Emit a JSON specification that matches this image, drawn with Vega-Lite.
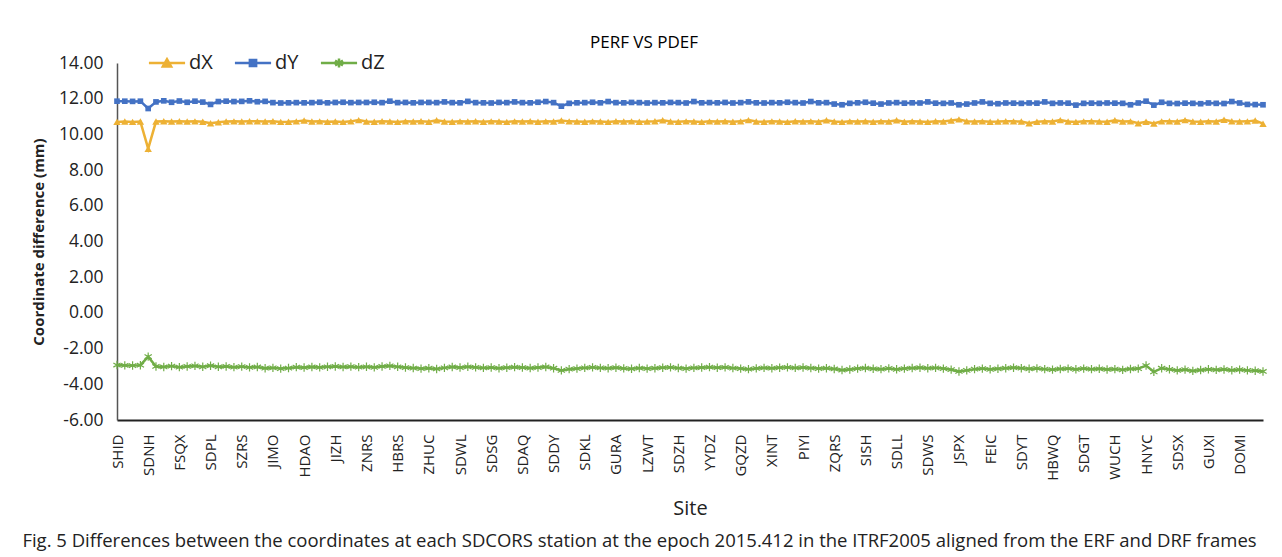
{
  "$schema": "https://vega.github.io/schema/vega-lite/v6.json",
  "background": "white",
  "padding": {"left": 22, "top": 34, "right": 0, "bottom": 0},
  "config": {
    "font": "Open Sans",
    "view": {"stroke": null},
    "concat": {"spacing": 0}
  },
  "title": {
    "text": "Fig. 5  Differences between the coordinates at each SDCORS station at the epoch 2015.412 in the ITRF2005 aligned from the ERF and DRF frames",
    "orient": "bottom",
    "anchor": "start",
    "font": "Open Sans",
    "fontSize": 18.5,
    "fontWeight": "normal",
    "color": "#222",
    "offset": 14,
    "dx": -9
  },
  "vconcat": [
    {
      "width": 1146,
      "height": 357,
      "title": {
        "text": "PERF VS PDEF",
        "font": "Open Sans",
        "fontSize": 17,
        "fontWeight": "normal",
        "color": "#000",
        "anchor": "middle",
        "dx": -46,
        "offset": 2
      },
      "data": {
        "values": [
          {"site": "SHID", "dX": 10.70, "dY": 11.86, "dZ": -2.92},
          {"site": "S001", "dX": 10.72, "dY": 11.86, "dZ": -2.94},
          {"site": "S002", "dX": 10.70, "dY": 11.85, "dZ": -2.95},
          {"site": "S003", "dX": 10.72, "dY": 11.86, "dZ": -2.93},
          {"site": "SDNH", "dX": 9.20, "dY": 11.45, "dZ": -2.45},
          {"site": "S005", "dX": 10.72, "dY": 11.82, "dZ": -3.00},
          {"site": "S006", "dX": 10.74, "dY": 11.88, "dZ": -3.03},
          {"site": "S007", "dX": 10.72, "dY": 11.80, "dZ": -2.98},
          {"site": "FSQX", "dX": 10.74, "dY": 11.87, "dZ": -3.04},
          {"site": "S009", "dX": 10.72, "dY": 11.80, "dZ": -3.00},
          {"site": "S010", "dX": 10.73, "dY": 11.86, "dZ": -2.97},
          {"site": "S011", "dX": 10.71, "dY": 11.81, "dZ": -3.02},
          {"site": "SDPL", "dX": 10.62, "dY": 11.68, "dZ": -2.96},
          {"site": "S013", "dX": 10.68, "dY": 11.84, "dZ": -3.02},
          {"site": "S014", "dX": 10.72, "dY": 11.86, "dZ": -3.00},
          {"site": "S015", "dX": 10.73, "dY": 11.84, "dZ": -3.04},
          {"site": "SZRS", "dX": 10.72, "dY": 11.85, "dZ": -3.01},
          {"site": "S017", "dX": 10.74, "dY": 11.88, "dZ": -3.05},
          {"site": "S018", "dX": 10.73, "dY": 11.83, "dZ": -3.03},
          {"site": "S019", "dX": 10.72, "dY": 11.85, "dZ": -3.10},
          {"site": "JIMO", "dX": 10.74, "dY": 11.78, "dZ": -3.08},
          {"site": "S021", "dX": 10.70, "dY": 11.76, "dZ": -3.12},
          {"site": "S022", "dX": 10.71, "dY": 11.77, "dZ": -3.09},
          {"site": "S023", "dX": 10.73, "dY": 11.78, "dZ": -3.04},
          {"site": "HDAO", "dX": 10.78, "dY": 11.77, "dZ": -3.06},
          {"site": "S025", "dX": 10.72, "dY": 11.78, "dZ": -3.03},
          {"site": "S026", "dX": 10.73, "dY": 11.80, "dZ": -3.05},
          {"site": "S027", "dX": 10.71, "dY": 11.77, "dZ": -3.02},
          {"site": "JIZH", "dX": 10.72, "dY": 11.79, "dZ": -3.00},
          {"site": "S029", "dX": 10.70, "dY": 11.80, "dZ": -3.03},
          {"site": "S030", "dX": 10.73, "dY": 11.78, "dZ": -3.01},
          {"site": "S031", "dX": 10.80, "dY": 11.79, "dZ": -3.04},
          {"site": "ZNRS", "dX": 10.72, "dY": 11.79, "dZ": -3.02},
          {"site": "S033", "dX": 10.71, "dY": 11.80, "dZ": -3.05},
          {"site": "S034", "dX": 10.74, "dY": 11.78, "dZ": -3.00},
          {"site": "S035", "dX": 10.72, "dY": 11.86, "dZ": -2.97},
          {"site": "HBRS", "dX": 10.70, "dY": 11.78, "dZ": -3.02},
          {"site": "S037", "dX": 10.73, "dY": 11.79, "dZ": -3.06},
          {"site": "S038", "dX": 10.72, "dY": 11.77, "dZ": -3.09},
          {"site": "S039", "dX": 10.74, "dY": 11.79, "dZ": -3.12},
          {"site": "ZHUC", "dX": 10.71, "dY": 11.79, "dZ": -3.10},
          {"site": "S041", "dX": 10.79, "dY": 11.78, "dZ": -3.14},
          {"site": "S042", "dX": 10.72, "dY": 11.82, "dZ": -3.08},
          {"site": "S043", "dX": 10.71, "dY": 11.78, "dZ": -3.03},
          {"site": "SDWL", "dX": 10.73, "dY": 11.77, "dZ": -3.06},
          {"site": "S045", "dX": 10.72, "dY": 11.85, "dZ": -3.02},
          {"site": "S046", "dX": 10.74, "dY": 11.78, "dZ": -3.05},
          {"site": "S047", "dX": 10.71, "dY": 11.77, "dZ": -3.08},
          {"site": "SDSG", "dX": 10.73, "dY": 11.76, "dZ": -3.06},
          {"site": "S049", "dX": 10.72, "dY": 11.79, "dZ": -3.10},
          {"site": "S050", "dX": 10.70, "dY": 11.78, "dZ": -3.07},
          {"site": "S051", "dX": 10.73, "dY": 11.82, "dZ": -3.04},
          {"site": "SDAQ", "dX": 10.72, "dY": 11.78, "dZ": -3.06},
          {"site": "S053", "dX": 10.74, "dY": 11.77, "dZ": -3.09},
          {"site": "S054", "dX": 10.71, "dY": 11.80, "dZ": -3.06},
          {"site": "S055", "dX": 10.73, "dY": 11.84, "dZ": -3.03},
          {"site": "SDDY", "dX": 10.72, "dY": 11.78, "dZ": -3.10},
          {"site": "S057", "dX": 10.78, "dY": 11.58, "dZ": -3.22},
          {"site": "S058", "dX": 10.73, "dY": 11.74, "dZ": -3.15},
          {"site": "S059", "dX": 10.72, "dY": 11.77, "dZ": -3.12},
          {"site": "SDKL", "dX": 10.71, "dY": 11.78, "dZ": -3.08},
          {"site": "S061", "dX": 10.73, "dY": 11.80, "dZ": -3.05},
          {"site": "S062", "dX": 10.72, "dY": 11.77, "dZ": -3.08},
          {"site": "S063", "dX": 10.70, "dY": 11.84, "dZ": -3.10},
          {"site": "GURA", "dX": 10.74, "dY": 11.78, "dZ": -3.07},
          {"site": "S065", "dX": 10.72, "dY": 11.77, "dZ": -3.11},
          {"site": "S066", "dX": 10.73, "dY": 11.79, "dZ": -3.13},
          {"site": "S067", "dX": 10.71, "dY": 11.78, "dZ": -3.09},
          {"site": "LZWT", "dX": 10.72, "dY": 11.76, "dZ": -3.12},
          {"site": "S069", "dX": 10.74, "dY": 11.78, "dZ": -3.10},
          {"site": "S070", "dX": 10.79, "dY": 11.77, "dZ": -3.07},
          {"site": "S071", "dX": 10.72, "dY": 11.79, "dZ": -3.05},
          {"site": "SDZH", "dX": 10.71, "dY": 11.78, "dZ": -3.09},
          {"site": "S073", "dX": 10.73, "dY": 11.76, "dZ": -3.12},
          {"site": "S074", "dX": 10.72, "dY": 11.84, "dZ": -3.08},
          {"site": "S075", "dX": 10.70, "dY": 11.77, "dZ": -3.06},
          {"site": "YYDZ", "dX": 10.73, "dY": 11.78, "dZ": -3.04},
          {"site": "S077", "dX": 10.72, "dY": 11.77, "dZ": -3.07},
          {"site": "S078", "dX": 10.74, "dY": 11.79, "dZ": -3.05},
          {"site": "S079", "dX": 10.71, "dY": 11.76, "dZ": -3.09},
          {"site": "GQZD", "dX": 10.73, "dY": 11.78, "dZ": -3.12},
          {"site": "S081", "dX": 10.80, "dY": 11.82, "dZ": -3.15},
          {"site": "S082", "dX": 10.72, "dY": 11.77, "dZ": -3.11},
          {"site": "S083", "dX": 10.71, "dY": 11.76, "dZ": -3.08},
          {"site": "XINT", "dX": 10.73, "dY": 11.78, "dZ": -3.10},
          {"site": "S085", "dX": 10.72, "dY": 11.77, "dZ": -3.07},
          {"site": "S086", "dX": 10.70, "dY": 11.80, "dZ": -3.05},
          {"site": "S087", "dX": 10.74, "dY": 11.78, "dZ": -3.08},
          {"site": "PIYI", "dX": 10.72, "dY": 11.76, "dZ": -3.06},
          {"site": "S089", "dX": 10.73, "dY": 11.84, "dZ": -3.09},
          {"site": "S090", "dX": 10.71, "dY": 11.77, "dZ": -3.12},
          {"site": "S091", "dX": 10.79, "dY": 11.78, "dZ": -3.10},
          {"site": "ZQRS", "dX": 10.72, "dY": 11.70, "dZ": -3.14},
          {"site": "S093", "dX": 10.70, "dY": 11.66, "dZ": -3.20},
          {"site": "S094", "dX": 10.73, "dY": 11.74, "dZ": -3.17},
          {"site": "S095", "dX": 10.72, "dY": 11.77, "dZ": -3.12},
          {"site": "SISH", "dX": 10.74, "dY": 11.80, "dZ": -3.09},
          {"site": "S097", "dX": 10.71, "dY": 11.75, "dZ": -3.13},
          {"site": "S098", "dX": 10.73, "dY": 11.70, "dZ": -3.15},
          {"site": "S099", "dX": 10.72, "dY": 11.76, "dZ": -3.11},
          {"site": "SDLL", "dX": 10.79, "dY": 11.78, "dZ": -3.16},
          {"site": "S101", "dX": 10.71, "dY": 11.75, "dZ": -3.12},
          {"site": "S102", "dX": 10.73, "dY": 11.77, "dZ": -3.09},
          {"site": "S103", "dX": 10.72, "dY": 11.76, "dZ": -3.07},
          {"site": "SDWS", "dX": 10.70, "dY": 11.82, "dZ": -3.10},
          {"site": "S105", "dX": 10.74, "dY": 11.75, "dZ": -3.08},
          {"site": "S106", "dX": 10.72, "dY": 11.74, "dZ": -3.12},
          {"site": "S107", "dX": 10.78, "dY": 11.76, "dZ": -3.18},
          {"site": "JSPX", "dX": 10.84, "dY": 11.66, "dZ": -3.28},
          {"site": "S109", "dX": 10.74, "dY": 11.70, "dZ": -3.22},
          {"site": "S110", "dX": 10.72, "dY": 11.76, "dZ": -3.15},
          {"site": "S111", "dX": 10.73, "dY": 11.82, "dZ": -3.12},
          {"site": "FEIC", "dX": 10.71, "dY": 11.74, "dZ": -3.16},
          {"site": "S113", "dX": 10.72, "dY": 11.72, "dZ": -3.13},
          {"site": "S114", "dX": 10.74, "dY": 11.76, "dZ": -3.10},
          {"site": "S115", "dX": 10.73, "dY": 11.75, "dZ": -3.07},
          {"site": "SDYT", "dX": 10.72, "dY": 11.74, "dZ": -3.10},
          {"site": "S117", "dX": 10.62, "dY": 11.76, "dZ": -3.13},
          {"site": "S118", "dX": 10.71, "dY": 11.75, "dZ": -3.11},
          {"site": "S119", "dX": 10.73, "dY": 11.82, "dZ": -3.15},
          {"site": "HBWQ", "dX": 10.72, "dY": 11.74, "dZ": -3.18},
          {"site": "S121", "dX": 10.80, "dY": 11.76, "dZ": -3.14},
          {"site": "S122", "dX": 10.72, "dY": 11.75, "dZ": -3.12},
          {"site": "S123", "dX": 10.70, "dY": 11.64, "dZ": -3.16},
          {"site": "SDGT", "dX": 10.73, "dY": 11.74, "dZ": -3.12},
          {"site": "S125", "dX": 10.74, "dY": 11.75, "dZ": -3.15},
          {"site": "S126", "dX": 10.72, "dY": 11.74, "dZ": -3.13},
          {"site": "S127", "dX": 10.71, "dY": 11.76, "dZ": -3.17},
          {"site": "WUCH", "dX": 10.79, "dY": 11.75, "dZ": -3.15},
          {"site": "S129", "dX": 10.72, "dY": 11.74, "dZ": -3.19},
          {"site": "S130", "dX": 10.73, "dY": 11.66, "dZ": -3.14},
          {"site": "S131", "dX": 10.62, "dY": 11.76, "dZ": -3.12},
          {"site": "HNYC", "dX": 10.71, "dY": 11.86, "dZ": -2.95},
          {"site": "S133", "dX": 10.61, "dY": 11.64, "dZ": -3.30},
          {"site": "S134", "dX": 10.73, "dY": 11.80, "dZ": -3.10},
          {"site": "S135", "dX": 10.74, "dY": 11.74, "dZ": -3.16},
          {"site": "SDSX", "dX": 10.72, "dY": 11.73, "dZ": -3.22},
          {"site": "S137", "dX": 10.80, "dY": 11.75, "dZ": -3.18},
          {"site": "S138", "dX": 10.72, "dY": 11.74, "dZ": -3.25},
          {"site": "S139", "dX": 10.71, "dY": 11.72, "dZ": -3.20},
          {"site": "GUXI", "dX": 10.73, "dY": 11.76, "dZ": -3.16},
          {"site": "S141", "dX": 10.72, "dY": 11.74, "dZ": -3.19},
          {"site": "S142", "dX": 10.82, "dY": 11.73, "dZ": -3.17},
          {"site": "S143", "dX": 10.74, "dY": 11.84, "dZ": -3.21},
          {"site": "DOMI", "dX": 10.72, "dY": 11.76, "dZ": -3.18},
          {"site": "S145", "dX": 10.73, "dY": 11.68, "dZ": -3.22},
          {"site": "S146", "dX": 10.78, "dY": 11.67, "dZ": -3.24},
          {"site": "S147", "dX": 10.60, "dY": 11.66, "dZ": -3.28}
        ]
      },
      "transform": [
        {"fold": ["dX", "dY", "dZ"], "as": ["series", "value"]}
      ],
      "encoding": {
        "x": {
          "field": "site",
          "type": "nominal",
          "sort": null,
          "scale": {"type": "point", "padding": 0},
          "axis": {
            "values": ["SHID", "SDNH", "FSQX", "SDPL", "SZRS", "JIMO", "HDAO", "JIZH", "ZNRS", "HBRS", "ZHUC", "SDWL", "SDSG", "SDAQ", "SDDY", "SDKL", "GURA", "LZWT", "SDZH", "YYDZ", "GQZD", "XINT", "PIYI", "ZQRS", "SISH", "SDLL", "SDWS", "JSPX", "FEIC", "SDYT", "HBWQ", "SDGT", "WUCH", "HNYC", "SDSX", "GUXI", "DOMI"],
            "title": "Site",
            "titleFont": "Open Sans",
            "titleFontSize": 20,
            "titleFontWeight": "normal",
            "titleColor": "#222",
            "titlePadding": 18,
            "labelAngle": -90,
            "labelFont": "Open Sans",
            "labelFontSize": 15,
            "labelColor": "#222",
            "labelPadding": 14,
            "labelOverlap": false,
            "ticks": false,
            "grid": false,
            "domainColor": "#222",
            "domainWidth": 2
          }
        },
        "y": {
          "field": "value",
          "type": "quantitative",
          "scale": {"domain": [-6, 14], "nice": false, "zero": false},
          "axis": {
            "values": [-6, -4, -2, 0, 2, 4, 6, 8, 10, 12, 14],
            "format": ".2f",
            "labelExpr": "replace(datum.label, '\u2212', '-')",
            "title": "Coordinate difference (mm)",
            "titleFont": "Open Sans",
            "titleFontSize": 15,
            "titleFontWeight": "bold",
            "titleColor": "#222",
            "titlePadding": 12,
            "labelFont": "Open Sans",
            "labelFontSize": 17.5,
            "labelColor": "#222",
            "labelPadding": 14,
            "ticks": false,
            "grid": false,
            "domainColor": "#555",
            "domainWidth": 1.5
          }
        },
        "color": {
          "field": "series",
          "type": "nominal",
          "scale": {"domain": ["dX", "dY", "dZ"], "range": ["#EDB134", "#4472C4", "#70AD47"]},
          "legend": {
            "title": null,
            "orient": "none",
            "direction": "horizontal",
            "legendX": 40,
            "legendY": -10,
            "symbolSize": 270,
            "labelFont": "Open Sans",
            "labelFontSize": 20,
            "labelColor": "#222",
            "labelOffset": 12,
            "columnPadding": 16,
            "encode": {
              "symbols": {
                "update": {
                  "shape": {"signal": "datum.value === 'dX' ? 'M-2.2,0H2.2M-0.5,0.42L0,-0.45L0.5,0.42Z' : datum.value === 'dY' ? 'M-2.2,0H2.2M-0.38,-0.38H0.38V0.38H-0.38Z' : 'M-2.2,0H2.2M0,-0.55V0.55M-0.48,-0.28L0.48,0.28M-0.48,0.28L0.48,-0.28'"},
                  "size": {"value": 270},
                  "stroke": {"signal": "scale('color', datum.value)"},
                  "fill": {"signal": "scale('color', datum.value)"},
                  "strokeWidth": {"value": 2.5},
                  "opacity": {"value": 1}
                }
              }
            }
          }
        }
      },
      "layer": [
        {
          "mark": {"type": "line", "strokeWidth": 2.5}
        },
        {
          "transform": [{"filter": "datum.series === 'dX'"}],
          "mark": {"type": "point", "shape": "triangle-up", "size": 55, "filled": true, "opacity": 1}
        },
        {
          "transform": [{"filter": "datum.series === 'dY'"}],
          "mark": {"type": "point", "shape": "square", "size": 32, "filled": true, "opacity": 1}
        },
        {
          "transform": [{"filter": "datum.series === 'dZ'"}],
          "mark": {"type": "point", "shape": "M0,-1V1M-0.87,-0.5L0.87,0.5M-0.87,0.5L0.87,-0.5", "size": 70, "filled": true, "opacity": 1, "stroke": "#70AD47", "strokeWidth": 1.2}
        }
      ]
    }
  ]
}
